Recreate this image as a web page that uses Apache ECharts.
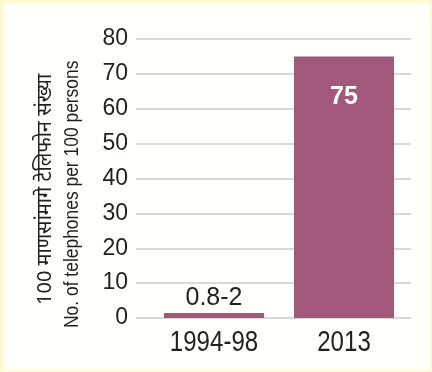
<!DOCTYPE html>
<html>
<head>
<meta charset="utf-8">
<script src="https://cdn.jsdelivr.net/npm/echarts@6/dist/echarts.min.js"></script>
<style>
  html, body { margin: 0; padding: 0; background: #fffbd6; }
  #frame {
    position: absolute; left: 0; top: 0; width: 432px; height: 372px;
    box-sizing: border-box; border-style: solid; border-color: #fff9d2;
    border-width: 3px 2px 2px 3px; background: #fffffc;
  }
  #chart { position: absolute; left: -3px; top: -3px; width: 432px; height: 372px; }
</style>
</head>
<body>
<div id="frame"><div id="chart"></div></div>
<script>
// Telephone density: phones per 100 persons
const categories = ['1994-98', '2013'];
const values = [1.4, 75];
const valueLabels = ['0.8-2', '75'];
const yMin = 0, yMax = 80, yStep = 10;
const titleMarathi = '100 माणसांमागे टेलिफोन संख्या';
const titleEnglish = 'No. of telephones per 100 persons';

const barColor = '#a2587a';
const ink = '#231f20';
const sansFamily = '"Liberation Sans", Arial, sans-serif';

const chart = echarts.init(document.getElementById('chart'), null, { renderer: 'canvas' });

const gridTop = 39, gridBottom = 54;

chart.setOption({
  animation: false,
  backgroundColor: 'transparent',
  grid: [
    { left: 136, right: 21, top: gridTop, bottom: gridBottom },
    { left: 149, right: 23, top: gridTop, bottom: gridBottom }
  ],
  xAxis: [
    { gridIndex: 0, type: 'category', data: categories, show: false },
    { gridIndex: 1, type: 'category', data: categories, show: false }
  ],
  yAxis: [
    {
      gridIndex: 0, type: 'value', min: yMin, max: yMax, interval: yStep,
      axisLine: { show: false }, axisTick: { show: false },
      axisLabel: { color: ink, fontFamily: sansFamily, fontSize: 23, margin: 8 },
      splitLine: { lineStyle: { color: '#d9d9d9', width: 2 } }
    },
    {
      gridIndex: 1, type: 'value', min: yMin, max: yMax, interval: yStep,
      show: false, splitLine: { show: false }
    }
  ],
  series: [{
    type: 'bar',
    xAxisIndex: 1, yAxisIndex: 1,
    barWidth: 100,
    itemStyle: { color: barColor },
    data: values.map((v, i) => ({
      value: v,
      label: i === 0
        ? { show: true, position: 'top', distance: 3, formatter: valueLabels[i],
            color: ink, fontFamily: sansFamily, fontSize: 25 }
        : { show: true, position: 'insideTop', distance: 28, formatter: valueLabels[i],
            color: '#ffffff', fontFamily: sansFamily, fontWeight: 'bold', fontSize: 25 }
    }))
  }]
});

// Category labels under the bars, placed through the axis scale
const catFont = '29px ' + sansFamily;
const baseY = chart.convertToPixel({ yAxisIndex: 1 }, 0);
const catLabels = categories.map((c) => ({
  type: 'text',
  x: chart.convertToPixel({ xAxisIndex: 1 }, c),
  y: baseY + 25,
  scaleX: 0.83,
  style: { text: c, fill: ink, font: catFont, align: 'center', verticalAlign: 'middle' }
}));

// Two-line rotated axis title (Marathi above English), each line starting at its lower end
const titles = [
  { type: 'text', x: 45, y: 305, rotation: Math.PI / 2, scaleX: 1.0,
    style: { text: titleMarathi, fill: ink, font: '20px "Noto Sans", sans-serif',
             align: 'left', verticalAlign: 'middle' } },
  { type: 'text', x: 72.5, y: 328, rotation: Math.PI / 2, scaleX: 0.83,
    style: { text: titleEnglish, fill: ink, font: '21px ' + sansFamily,
             align: 'left', verticalAlign: 'middle' } }
];

chart.setOption({ graphic: catLabels.concat(titles) });
</script>
</body>
</html>
